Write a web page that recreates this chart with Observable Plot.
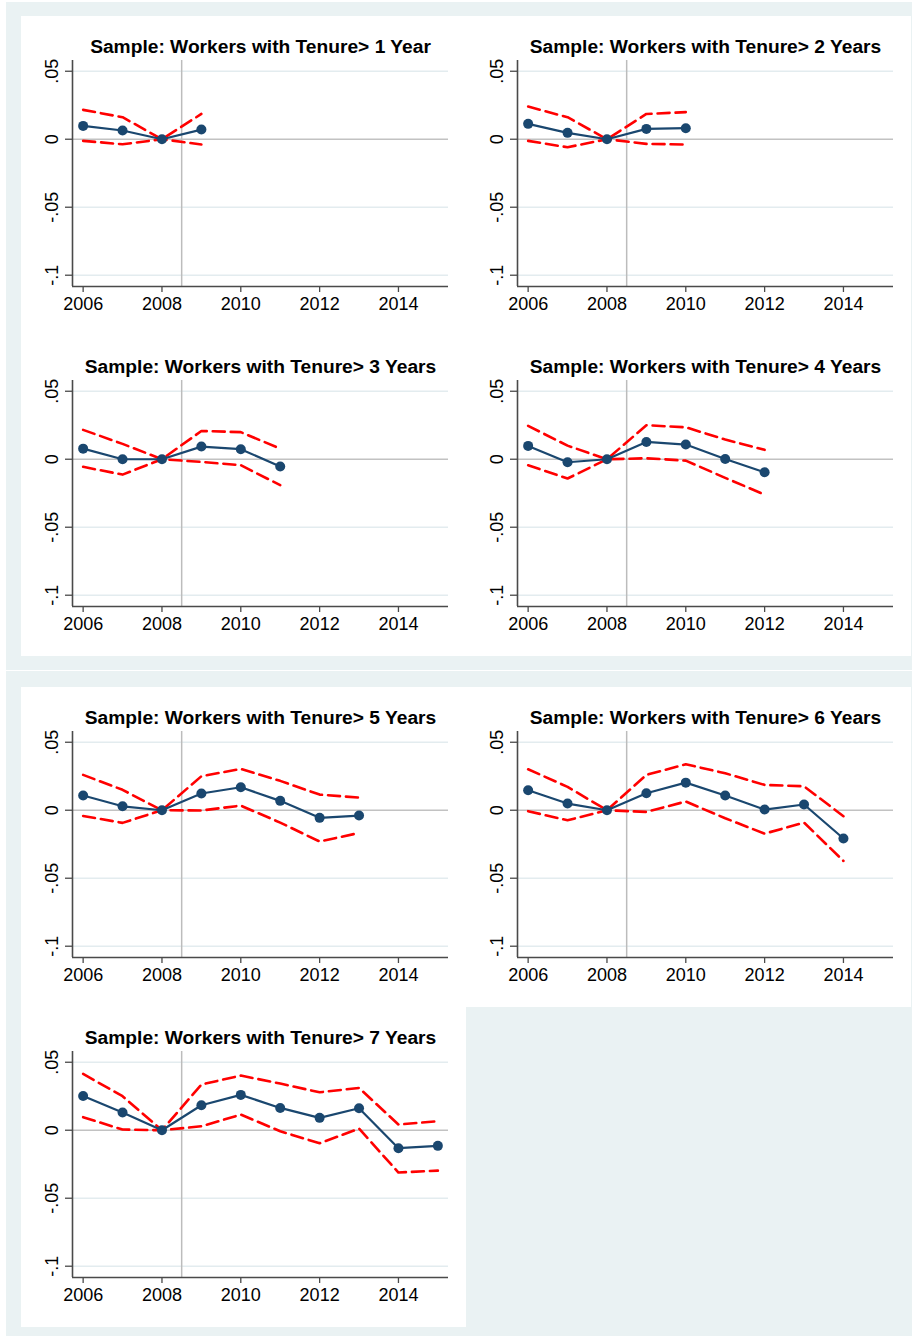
<!DOCTYPE html>
<html>
<head>
<meta charset="utf-8">
<script src="https://cdn.jsdelivr.net/npm/d3@7"></script>
<script src="https://cdn.jsdelivr.net/npm/@observablehq/plot@0.6"></script>
<style>
  html, body { margin: 0; padding: 0; background: #ffffff; }
  body { width: 912px; height: 1336px; position: relative; overflow: hidden; font-family: "Liberation Sans", Arial, sans-serif; }
  .block { position: absolute; background: #eaf2f3; }
  .cell { position: absolute; width: 445px; height: 320px; background: #ffffff; }
  .cell svg { display: block; }
</style>
</head>
<body>
<div class="block" style="left:6px; top:2px; width:906px; height:668px;"></div>
<div class="block" style="left:6px; top:671px; width:906px; height:665px;"></div>
<div id="cells"></div>
<script>
// ---- data ----
const years = [2006, 2007, 2008, 2009, 2010, 2011, 2012, 2013, 2014, 2015];
const xTicks = [2006, 2008, 2010, 2012, 2014];
const yTicks = [0.05, 0, -0.05, -0.1];
const yTickLabels = [".05", "0", "-.05", "-.1"];
const titles = [
  "Sample: Workers with Tenure> 1 Year",
  "Sample: Workers with Tenure> 2 Years",
  "Sample: Workers with Tenure> 3 Years",
  "Sample: Workers with Tenure> 4 Years",
  "Sample: Workers with Tenure> 5 Years",
  "Sample: Workers with Tenure> 6 Years",
  "Sample: Workers with Tenure> 7 Years"
];

const est1 = [0.0098, 0.0064, 0, 0.0071];
const hi1  = [0.0216, 0.0162, 0, 0.0186];
const lo1  = [-0.0012, -0.0037, 0, -0.0039];

const est2 = [0.0113, 0.0047, 0, 0.0076, 0.0081];
const hi2  = [0.0240, 0.0162, 0, 0.0186, 0.0199];
const lo2  = [-0.0012, -0.0059, 0, -0.0034, -0.0039];

const est3 = [0.0078, 0.0000, 0, 0.0093, 0.0074, -0.0054];
const hi3  = [0.0216, 0.0113, 0, 0.0208, 0.0199, 0.0078];
const lo3  = [-0.0056, -0.0113, 0, -0.0020, -0.0044, -0.0191];

const est4 = [0.0098, -0.0022, 0, 0.0127, 0.0108, 0.0002, -0.0096];
const hi4  = [0.0245, 0.0100, 0, 0.0250, 0.0235, 0.0145, 0.0069];
const lo4  = [-0.0044, -0.0142, 0, 0.0007, -0.0010, -0.0137, -0.0260];

const est5 = [0.0108, 0.0029, 0, 0.0123, 0.0169, 0.0069, -0.0056, -0.0039];
const hi5  = [0.0260, 0.0150, 0, 0.0250, 0.0304, 0.0216, 0.0115, 0.0093];
const lo5  = [-0.0042, -0.0093, 0, -0.0002, 0.0034, -0.0091, -0.0230, -0.0167];

const est6 = [0.0147, 0.0049, 0, 0.0125, 0.0203, 0.0108, 0.0005, 0.0042, -0.0208];
const hi6  = [0.0301, 0.0172, 0, 0.0260, 0.0338, 0.0272, 0.0186, 0.0176, -0.0044];
const lo6  = [-0.0007, -0.0074, 0, -0.0012, 0.0064, -0.0059, -0.0172, -0.0091, -0.0373];

const est7 = [0.0252, 0.0130, 0, 0.0184, 0.0260, 0.0164, 0.0091, 0.0162, -0.0132, -0.0115];
const hi7  = [0.0414, 0.0250, 0, 0.0336, 0.0402, 0.0343, 0.0279, 0.0311, 0.0042, 0.0066];
const lo7  = [0.0096, 0.0005, 0, 0.0029, 0.0115, -0.0007, -0.0096, 0.0012, -0.0311, -0.0297];

const panels = [
  {title: titles[0], est: est1, hi: hi1, lo: lo1},
  {title: titles[1], est: est2, hi: hi2, lo: lo2},
  {title: titles[2], est: est3, hi: hi3, lo: lo3},
  {title: titles[3], est: est4, hi: hi4, lo: lo4},
  {title: titles[4], est: est5, hi: hi5, lo: lo5},
  {title: titles[5], est: est6, hi: hi6, lo: lo6},
  {title: titles[6], est: est7, hi: hi7, lo: lo7}
];

// ---- layout (cell positions) ----
const cellPos = [
  [21, 16], [466, 16],
  [21, 336], [466, 336],
  [21, 687], [466, 687],
  [21, 1007]
];

const xDomain = [2005.73, 2015.27];
const yDomain = [-0.1083, 0.0579];
const axisColor = "#4a4a4a";
const navy = "#1a476f";
const red = "#ff0000";

const container = document.getElementById("cells");

panels.forEach((p, i) => {
  const data = p.est.map((e, j) => ({year: years[j], est: e, hi: p.hi[j], lo: p.lo[j]}));
  const chart = Plot.plot({
    width: 445,
    height: 320,
    marginLeft: 51,
    marginRight: 18,
    marginTop: 44,
    marginBottom: 50,
    x: {domain: xDomain},
    y: {domain: yDomain},
    style: {
      background: "#ffffff",
      fontFamily: "'Liberation Sans', Arial, sans-serif",
      fontSize: "18px",
      color: "#000000",
      overflow: "visible"
    },
    marks: [
      Plot.ruleY(yTicks.filter(d => d !== 0), {stroke: "#e3ecef", strokeWidth: 1.5}),
      Plot.ruleY([0], {stroke: "#c2c2c2", strokeWidth: 1.5}),
      Plot.ruleX([2008.5], {stroke: "#bcbcbc", strokeWidth: 1.5}),
      Plot.line(data, {x: "year", y: "hi", stroke: red, strokeWidth: 2.6, strokeDasharray: "12,6"}),
      Plot.line(data, {x: "year", y: "lo", stroke: red, strokeWidth: 2.6, strokeDasharray: "12,6"}),
      Plot.line(data, {x: "year", y: "est", stroke: navy, strokeWidth: 2.2}),
      Plot.dot(data, {x: "year", y: "est", r: 5, fill: navy, stroke: null}),
      Plot.axisY({
        ticks: yTicks,
        tickFormat: d => yTickLabels[yTicks.indexOf(d)],
        tickRotate: -90,
        tickSize: 7,
        tickPadding: 8,
        fontSize: 18,
        stroke: axisColor,
        strokeWidth: 1.3,
        fill: "#000000",
        label: null
      }),
      Plot.axisX({
        ticks: xTicks,
        tickFormat: d => String(d),
        tickSize: 6,
        tickPadding: 5,
        fontSize: 18,
        stroke: axisColor,
        strokeWidth: 1.3,
        fill: "#000000",
        label: null
      }),
      Plot.ruleX([xDomain[0]], {stroke: axisColor, strokeWidth: 1.6}),
      Plot.ruleY([yDomain[0]], {stroke: axisColor, strokeWidth: 1.6}),
      Plot.text([p.title], {
        frameAnchor: "top",
        dy: -8,
        lineAnchor: "bottom",
        fontSize: 19.2,
        fontWeight: "bold",
        fill: "#000000"
      })
    ]
  });
  const cell = document.createElement("div");
  cell.className = "cell";
  cell.style.left = cellPos[i][0] + "px";
  cell.style.top = cellPos[i][1] + "px";
  cell.appendChild(chart);
  container.appendChild(cell);
});
</script>
</body>
</html>
